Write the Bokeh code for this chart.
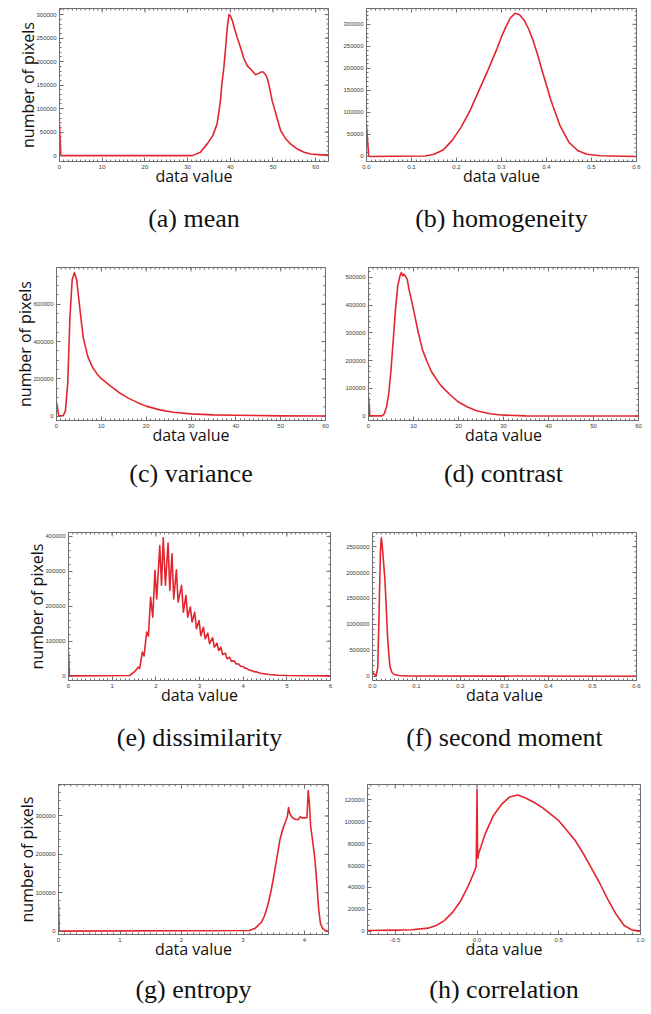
import math
from bokeh.plotting import figure
from bokeh.models import FixedTicker, Title, PrintfTickFormatter, Range1d
from bokeh.layouts import row, column
from bokeh.embed import file_html
from bokeh.resources import INLINE

# ---------------- data ----------------
mean_x = [0, 0.3, 31.1, 33, 34.6, 35.9, 36.9, 37.7, 38.0, 38.5, 39.0, 39.3, 39.7, 40.0, 40.5,
          41.0, 41.6, 42.4, 43.2, 44.0, 45.1, 45.9, 46.7, 47.2, 47.7, 48.3, 48.7, 49.1, 49.8,
          50.9, 51.8, 53.0, 54.1, 55.7, 57.3, 58.8, 61.2, 63]
mean_y = [67000, 0, 0, 7000, 25000, 42500, 67000, 117000, 150000, 188000, 240000, 273000,
          300000, 298000, 287000, 270000, 252000, 230000, 206000, 191000, 181000, 172000,
          175000, 178000, 178000, 172000, 163000, 149000, 117000, 81500, 53000, 35500, 25000,
          14000, 7000, 3500, 1500, 1500]

homog_x = [0, 0.005, 0.13, 0.15, 0.17, 0.19, 0.21, 0.23, 0.25, 0.27, 0.29, 0.30, 0.31, 0.32,
           0.33, 0.34, 0.35, 0.36, 0.37, 0.38, 0.39, 0.41, 0.43, 0.45, 0.47, 0.49, 0.52, 0.6]
homog_y = [70000, 0, 1000, 5000, 14500, 36000, 66000, 104000, 150000, 196000, 245000, 272000,
           295000, 315000, 325000, 322000, 310000, 290000, 264000, 232000, 196000, 127000,
           70000, 32000, 13000, 5000, 1500, 0]

var_x = [0, 0.5, 1.5, 2, 2.5, 3, 3.5, 4, 4.5, 5, 5.5, 6, 7, 8, 9, 10, 12, 14, 16, 18, 20, 23,
         26, 30, 35, 40, 50, 60]
var_y = [75000, 2000, 3000, 30000, 174000, 533000, 731000, 770000, 731000, 623000, 515000,
         417000, 318000, 264000, 228000, 201000, 162000, 126000, 97000, 74000, 54000, 34000,
         21500, 12500, 7000, 5000, 2000, 1000]

contr_x = [0, 0.3, 3, 3.5, 4, 4.5, 5, 5.5, 6, 6.5, 7, 7.3, 7.6, 7.9, 8.2, 8.6, 9, 10, 11, 12,
           13, 14, 15, 16, 18, 20, 22, 24, 27, 30, 35, 60]
contr_y = [69000, 1000, 1000, 8500, 33000, 81000, 166000, 275000, 385000, 470000, 506000,
           518000, 506000, 512000, 504000, 494000, 457000, 385000, 306000, 239000, 197000,
           160000, 136000, 112000, 79000, 51000, 33000, 19400, 8500, 3600, 1200, 500]

dissim_x = [0, 0.02, 1.4, 1.5, 1.55, 1.6, 1.63, 1.69, 1.73, 1.79, 1.83, 1.88, 1.93, 1.98, 2.02,
            2.09, 2.13, 2.17, 2.22, 2.28, 2.32, 2.37, 2.41, 2.47, 2.51, 2.59, 2.63, 2.69, 2.73,
            2.79, 2.83, 2.89, 2.93, 2.99, 3.03, 3.09, 3.13, 3.19, 3.23, 3.30, 3.34, 3.40, 3.44,
            3.49, 3.53, 3.59, 3.63, 3.69, 3.73, 3.80, 3.84, 3.90, 3.94, 4.0, 4.04, 4.09, 4.13,
            4.2, 4.24, 4.3, 4.34, 4.4, 4.6, 4.8, 5.0, 5.5, 6.0]
dissim_y = [69000, 1000, 2000, 11500, 18000, 26000, 22000, 69000, 58000, 126000, 115000,
            226000, 169000, 303000, 221000, 374000, 260000, 396000, 260000, 381000, 245000,
            350000, 221000, 304000, 212000, 260000, 183000, 231000, 169000, 198000, 155000,
            183000, 136000, 159000, 116000, 140000, 107000, 123000, 93000, 110000, 83000,
            94500, 73500, 83000, 62000, 66000, 50000, 54000, 43000, 43000, 35000, 35000,
            28600, 27700, 23000, 22000, 18000, 16000, 13000, 12400, 10500, 8600, 4800, 2900,
            1800, 1500, 1000]

smom_x = [0, 0.008, 0.012, 0.015, 0.018, 0.02, 0.022, 0.025, 0.028, 0.031, 0.034, 0.037,
          0.04, 0.044, 0.05, 0.06, 0.08, 0.6]
smom_y = [77000, 0, 172000, 1260000, 2400000, 2670000, 2530000, 2210000, 1890000, 1380000,
          810000, 427000, 172000, 77000, 32000, 13000, 6000, 0]

entr_x = [0, 0.01, 3.1, 3.2, 3.3, 3.35, 3.4, 3.45, 3.5, 3.55, 3.6, 3.65, 3.7, 3.72, 3.74, 3.76,
          3.8, 3.85, 3.9, 3.93, 3.96, 4.0, 4.04, 4.06, 4.08, 4.1, 4.13, 4.17, 4.2, 4.23, 4.26,
          4.3, 4.35, 4.39]
entr_y = [70000, 0, 1500, 7700, 23000, 40000, 66000, 100000, 143000, 190000, 238000, 268000,
          289000, 298000, 322000, 306000, 296000, 291000, 291000, 298000, 295000, 295000,
          296000, 366000, 332000, 272000, 238000, 186000, 126000, 57000, 19000, 6000, 500, 0]

corr_x = [-0.67, -0.5, -0.4, -0.3, -0.25, -0.2, -0.15, -0.1, -0.05, -0.02, -0.005, 0.0, 0.003,
          0.005, 0.01, 0.03, 0.05, 0.1, 0.15, 0.2, 0.25, 0.3, 0.35, 0.4, 0.45, 0.5, 0.55, 0.6,
          0.65, 0.7, 0.75, 0.8, 0.85, 0.9, 0.95, 1.0]
corr_y = [600, 900, 1200, 2700, 5100, 9600, 17100, 27600, 42600, 53000, 59000, 129600, 77000,
          66600, 71000, 80000, 89000, 105600, 116000, 122700, 124500, 121500, 117600, 113000,
          107000, 101000, 92000, 83000, 71000, 57600, 44000, 29000, 15600, 5100, 900, 0]

captions = ["(a) mean", "(b) homogeneity", "(c) variance", "(d) contrast",
            "(e) dissimilarity", "(f) second moment", "(g) entropy", "(h) correlation"]
x_label = "data value"
y_label = "number of pixels"

RED = "#e3262e"
GREY = "#6e6e6e"


def frange(a, b, s):
    n = int(round((b - a) / s))
    return [round(a + i * s, 6) for i in range(n + 1)]


def style_axis(ax):
    ax.major_tick_in = 4
    ax.major_tick_out = 0
    ax.minor_tick_in = 2
    ax.minor_tick_out = 0
    ax.major_tick_line_color = GREY
    ax.minor_tick_line_color = GREY
    ax.axis_line_color = GREY
    ax.major_label_text_font = "Liberation Sans"
    ax.major_label_text_color = "#3a3a3a"
    ax.major_label_text_font_size = "6px"
    ax.major_label_standoff = 3


def panel(xs, ys, xr, yr, xt, xm, yt, ym, xfmt, caption, cap_off, cap_stand, borders, size, ylab):
    L, R, T, B = borders
    W, H = size
    p = figure(width=W, height=H, x_range=Range1d(*xr), y_range=Range1d(*yr),
               output_backend="svg", toolbar_location=None, tools="",
               min_border_left=L, min_border_right=R, min_border_top=T, min_border_bottom=B)
    p.xgrid.visible = False
    p.ygrid.visible = False
    p.outline_line_color = GREY
    p.background_fill_color = "white"
    p.border_fill_color = "white"

    # ticks on the top and right frame edges (inward)
    p.ray(x=xt, y=[yr[1]] * len(xt), length=4, angle=-math.pi / 2, length_units="screen",
          line_color=GREY, line_width=1)
    p.ray(x=xm, y=[yr[1]] * len(xm), length=2, angle=-math.pi / 2, length_units="screen",
          line_color=GREY, line_width=1)
    p.ray(x=[xr[1]] * len(yt), y=yt, length=4, angle=math.pi, length_units="screen",
          line_color=GREY, line_width=1)
    p.ray(x=[xr[1]] * len(ym), y=ym, length=2, angle=math.pi, length_units="screen",
          line_color=GREY, line_width=1)

    p.line(xs, ys, line_color=RED, line_width=1.6, line_join="round")

    xa = p.xaxis[0]
    ya = p.yaxis[0]
    xa.ticker = FixedTicker(ticks=xt, minor_ticks=xm)
    ya.ticker = FixedTicker(ticks=yt, minor_ticks=ym)
    xa.formatter = PrintfTickFormatter(format=xfmt)
    ya.formatter = PrintfTickFormatter(format="%d")
    style_axis(xa)
    style_axis(ya)
    xa.axis_label = x_label
    xa.axis_label_text_font = "Open Sans"
    xa.axis_label_text_font_size = "16px"
    xa.axis_label_text_font_style = "normal"
    xa.axis_label_text_color = "#111111"
    xa.axis_label_standoff = -7
    if ylab:
        ya.axis_label = y_label
        ya.axis_label_text_font = "Open Sans"
        ya.axis_label_text_font_size = "16px"
        ya.axis_label_text_font_style = "normal"
        ya.axis_label_text_color = "#111111"
        ya.axis_label_standoff = -6

    t = Title(text=caption, align="center", text_font="Liberation Serif",
              text_font_size="26px", text_font_style="normal", text_color="#111111",
              offset=cap_off, standoff=cap_stand)
    p.add_layout(t, "below")
    return p


pa = panel(mean_x, mean_y, (0, 63), (-12500, 313000),
           frange(0, 60, 10), frange(0, 63, 1), frange(0, 300000, 50000), frange(0, 310000, 10000),
           "%d", captions[0], -18, 24, (59, 12, 8, 89), (340, 250), True)
pb = panel(homog_x, homog_y, (0, 0.6), (-11400, 336000),
           frange(0, 0.6, 0.1), frange(0, 0.6, 0.01), frange(0, 300000, 50000), frange(0, 330000, 10000),
           "%.1f", captions[1], -4, 24, (26, 15, 8, 89), (311, 250), False)
pc = panel(var_x, var_y, (0, 60), (-23000, 797000),
           frange(0, 60, 10), frange(0, 60, 1), frange(0, 600000, 200000), frange(0, 750000, 50000),
           "%d", captions[2], 0, 16, (56, 15, 17, 90), (340, 260), True)
pd = panel(contr_x, contr_y, (0, 60), (-15600, 536000),
           frange(0, 60, 10), frange(0, 60, 1), frange(0, 500000, 100000), frange(0, 520000, 20000),
           "%d", captions[3], -27, 17, (28, 13, 17, 90), (311, 260), False)
pe = panel(dissim_x, dissim_y, (0, 6), (-12300, 411000),
           frange(0, 6, 1), frange(0, 6, 0.1), frange(0, 400000, 100000), frange(0, 400000, 20000),
           "%d", captions[4], 1, 24, (68, 10, 22, 90), (340, 260), True)
pf = panel(smom_x, smom_y, (0, 0.6), (-82000, 2773000),
           frange(0, 0.6, 0.1), frange(0, 0.6, 0.01), frange(0, 2500000, 500000), frange(0, 2700000, 100000),
           "%.1f", captions[5], -11, 24, (32, 15, 21, 90), (311, 260), False)
pg = panel(entr_x, entr_y, (0, 4.39), (-8800, 382000),
           frange(0, 4, 1), frange(0, 4.3, 0.1), frange(0, 300000, 100000), frange(0, 380000, 20000),
           "%d", captions[6], -5, 21, (58, 12, 14, 78), (340, 244), True)
ph = panel(corr_x, corr_y, (-0.67, 1.0), (-3100, 134100),
           frange(-0.5, 1.0, 0.5), frange(-0.65, 1.0, 0.05), frange(0, 120000, 20000), frange(0, 130000, 5000),
           "%.1f", captions[7], -6, 21, (27, 11, 14, 78), (311, 244), False)

layout = column(row(pa, pb), row(pc, pd), row(pe, pf), row(pg, ph))
open("out.html", "w").write(file_html(layout, INLINE))
